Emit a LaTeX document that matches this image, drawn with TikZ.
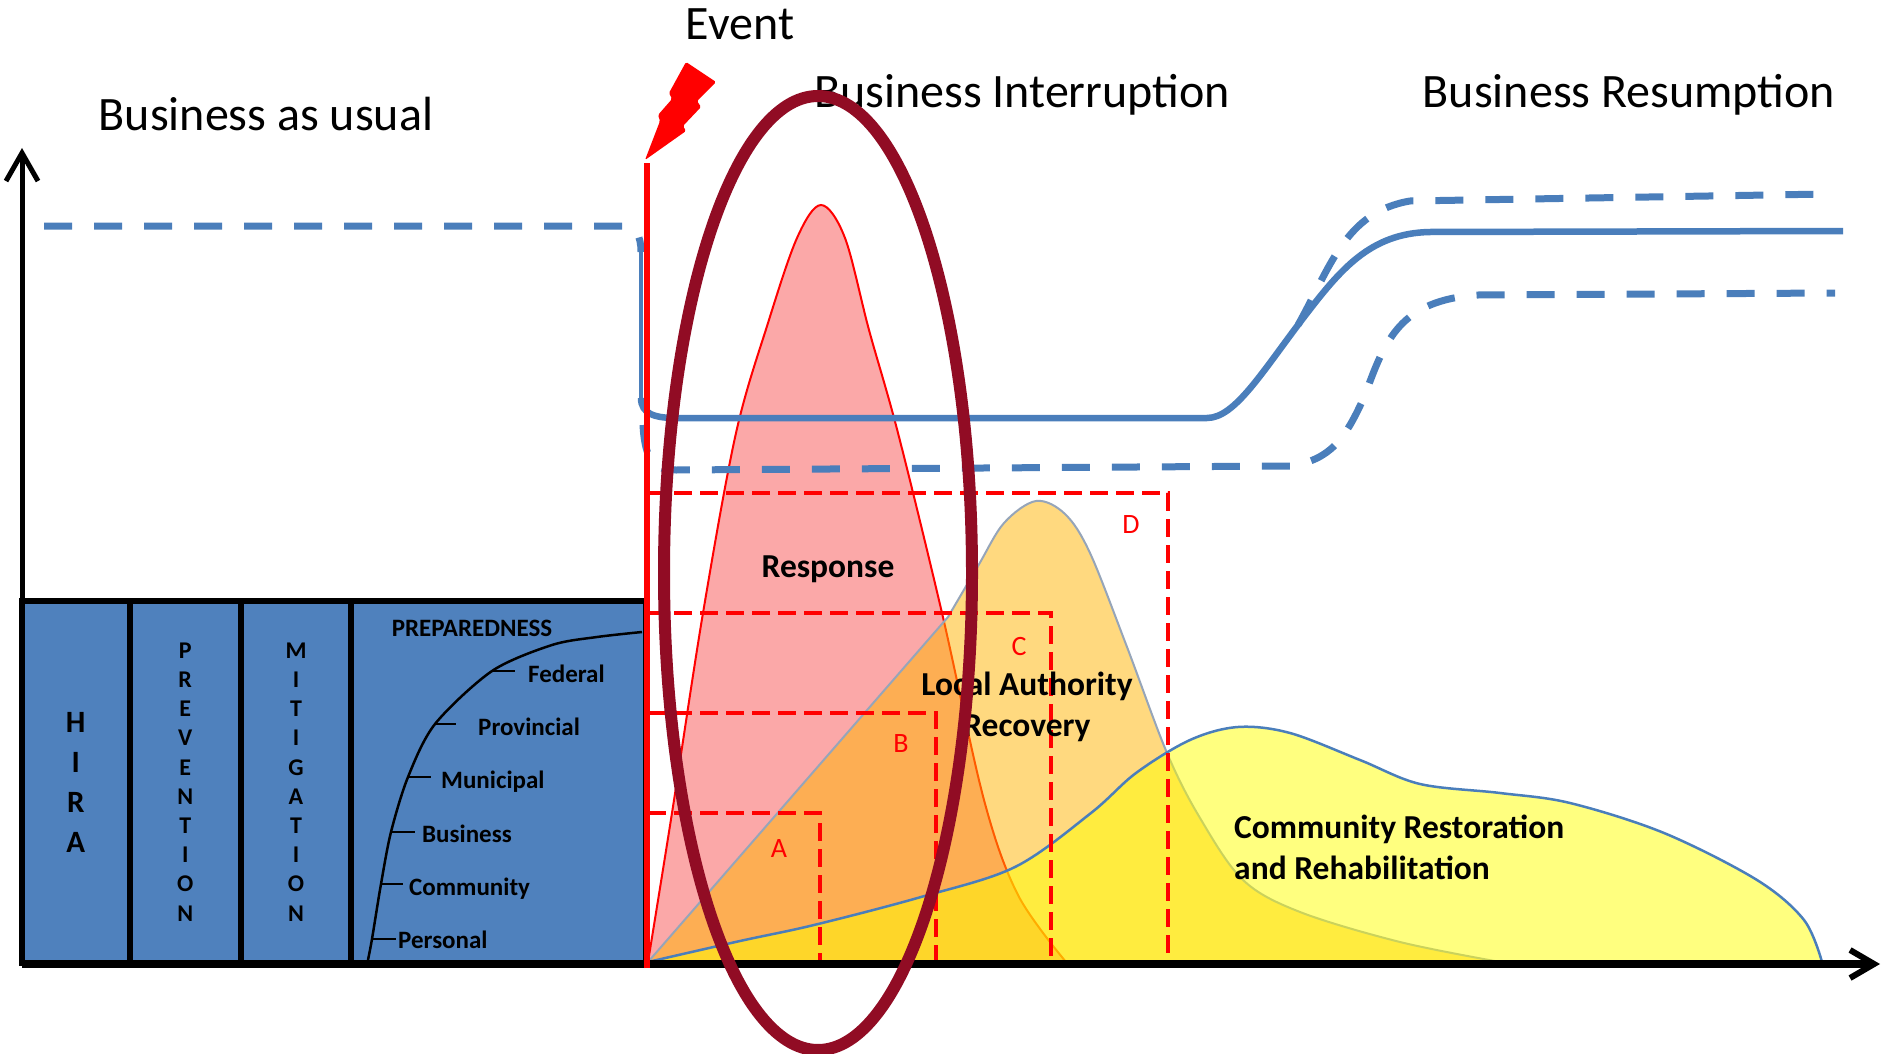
\documentclass[tikz,border=0pt]{standalone}
\usepackage{fontspec}
\setmainfont{Carlito}
\usepackage{tikz}
\usetikzlibrary{arrows,arrows.meta,shapes,backgrounds,positioning,calc}
\definecolor{blk}{RGB}{79,129,189}
\definecolor{bline}{RGB}{74,126,187}
\definecolor{pinkfill}{RGB}{251,168,168}
\definecolor{lafill}{RGB}{255,180,0}
\definecolor{crfill}{RGB}{255,255,0}
\definecolor{laline}{RGB}{150,165,185}
\definecolor{ellred}{RGB}{145,12,36}
\tikzstyle{block}=[draw=black, fill=blk, line width=6pt, minimum height=362pt, align=center]
\tikzstyle{title}=[font=\fontsize{48}{57}\selectfont, anchor=base, inner sep=0pt]
\tikzstyle{phase}=[font=\fontsize{33.5}{41}\selectfont\bfseries, align=center, inner sep=0pt]
\tikzstyle{lvl}=[font=\fontsize{25}{29}\selectfont\bfseries, anchor=base west, inner sep=0pt]
\tikzstyle{box}=[red, dash pattern=on 18pt off 8pt, line width=3.5pt]
\tikzstyle{boxlabel}=[red, font=\fontsize{28}{34}\selectfont, anchor=base, inner sep=0pt]
\tikzstyle{bcurve}=[bline, line width=6.5pt]
\tikzstyle{bdash}=[bline, line width=7pt, dash pattern=on 28pt off 22pt]
\tikzstyle{yaxis}=[line width=5pt, >={Straight Barb[length=28pt,width=32pt]}]
\tikzstyle{xaxis}=[line width=8pt, >={Straight Barb[length=24pt,width=28pt,line width=6pt]}]

\begin{document}
\begin{tikzpicture}[x=1pt,y=-1pt]
	\useasboundingbox (0,0) rectangle (1882,1054);
	\fill[white] (0,0) rectangle (1882,1054);

	\node[block, minimum width=107.5pt, font=\fontsize{31}{40}\selectfont\bfseries] (HIRA) at (75.75,782) {H\\I\\R\\A};
	\node[block, minimum width=111.5pt, font=\fontsize{24}{29.2}\selectfont\bfseries] (PREV) at (185.25,782) {P\\R\\E\\V\\E\\N\\T\\I\\O\\N};
	\node[block, minimum width=110pt, font=\fontsize{24}{29.2}\selectfont\bfseries] (MITI) at (296,782) {M\\I\\T\\I\\G\\A\\T\\I\\O\\N};
	\node[block, minimum width=295pt] (PREP) at (498.5,782) {};

	\draw[line width=2.5pt] plot[smooth] coordinates {(368,960) (372,939) (381,884) (391,832) (408,777) (435,724) (492,671) (552,645) (597,637) (642,632)};
	\coordinate (tPer) at (372,939);
	\coordinate (tCom) at (381,884);
	\coordinate (tBus) at (391,832);
	\coordinate (tMun) at (408,777);
	\coordinate (tPro) at (435,724);
	\coordinate (tFed) at (492,671);
	\draw[line width=2.5pt] (tPer) -- ++(24,0);
	\draw[line width=2.5pt] (tCom) -- ++(22,0);
	\draw[line width=2.5pt] (tBus) -- ++(24,0);
	\draw[line width=2.5pt] (tMun) -- ++(23,0);
	\draw[line width=2.5pt] (tPro) -- ++(21,0);
	\draw[line width=2.5pt] (tFed) -- ++(23,0);
	\node[lvl, anchor=base] (prephead) at (472,636) {PREPAREDNESS};
	\node[lvl] (Fed) at (528,682) {Federal};
	\node[lvl] (Pro) at (478,735) {Provincial};
	\node[lvl] (Mun) at (441,788) {Municipal};
	\node[lvl] (Bus) at (422,842) {Business};
	\node[lvl] (Com) at (409,895) {Community};
	\node[lvl] (Per) at (398,948) {Personal};

	\filldraw[fill=pinkfill, draw=red, line width=2pt] plot[smooth, tension=0.55] coordinates {(648,962) (672,813) (703,613) (736,433) (768,323) (797,238) (821,205) (845,238) (869,330) (898,433) (942,613) (984,800) (1018,895) (1066,962)} -- cycle;
	\filldraw[fill=lafill, fill opacity=0.5, draw=laline, line width=2pt] (648,962) -- plot[smooth, tension=0.55] coordinates {(948,617) (978,566) (1004,523) (1036,501) (1065,514) (1090,553) (1127,647) (1167,753) (1200,818) (1243,880) (1300,912) (1400,942) (1500,962)} -- cycle;
	\filldraw[fill=crfill, fill opacity=0.5, draw=bline, line width=2.5pt] plot[smooth, tension=0.55] coordinates {(648,962) (740,941) (814,925) (921,897) (1015,867) (1091,813) (1136,773) (1190,740) (1238,727) (1290,733) (1360,760) (1420,784) (1500,793) (1570,803) (1664,833) (1757,880) (1804,920) (1822,962)} -- cycle;

	\draw[bdash] (44,226) -- (622,226) .. controls (636,226) and (641,236) .. (641,252);
	\draw[bline, line width=4pt] (641,245) -- (641,400);
	\draw[bcurve] (641,398) .. controls (641,414) and (655,418) .. (676,418) -- (1207,418) .. controls (1235,418) and (1262,372) .. (1304,317) .. controls (1340,270) and (1370,233) .. (1430,232) -- (1843,231);
	\draw[bdash] (1298,325) .. controls (1330,268) and (1345,212) .. (1410,201) -- (1828,194);
	\draw[bdash] (643,425) .. controls (645,462) and (655,470) .. (676,470) -- (1290,466) .. controls (1330,460) and (1345,440) .. (1365,395) .. controls (1385,340) and (1400,300) .. (1478,295) -- (1835,293);

	\draw[box] (648,813) -- (820,813) -- (820,962);
	\draw[box] (648,713) -- (936,713) -- (936,962);
	\draw[box] (648,613) -- (1051,613) -- (1051,962);
	\draw[box] (648,493) -- (1168,493) -- (1168,962);
	\node[boxlabel] (labA) at (779,857) {A};
	\node[boxlabel] (labB) at (901,752) {B};
	\node[boxlabel] (labC) at (1019,655) {C};
	\node[boxlabel] (labD) at (1131,533) {D};

	\node[phase, anchor=base] (resp) at (828,577) {Response};
	\node[phase] (lar) at (1027,707) {Local Authority\\Recovery};
	\node[phase, align=left, anchor=west] (crr) at (1234,847.5) {Community Restoration\\and Rehabilitation};

	\coordinate (orig) at (22,964);
	\coordinate (ytip) at (22,148);
	\coordinate (xtip) at (1880,964);
	\draw[->, yaxis] (orig) -- (ytip);
	\draw[->, xaxis] (orig) -- (xtip);

	\coordinate (evbot) at (647,968);
	\coordinate (evtop) at (647,163);
	\draw[red, line width=5.5pt] (evbot) -- (evtop);
	\fill[red, rounded corners=1.5pt] (645,160) -- (660,121) -- (658,115) -- (672,99) -- (669,93) -- (686,62) -- (716,82) -- (697,101) -- (701,107) -- (683,126) -- (686,131) -- cycle;

	\node[title] (usual) at (266,131) {Business as usual};
	\node[title] (event) at (740,40) {Event};
	\node[title] (interr) at (1022,108) {Business Interruption};
	\node[title] (resum) at (1629,108) {Business Resumption};

	\node[draw=ellred, line width=12pt, ellipse, minimum width=308pt, minimum height=954pt] (focus) at (818,573) {};
\end{tikzpicture}
\end{document}
